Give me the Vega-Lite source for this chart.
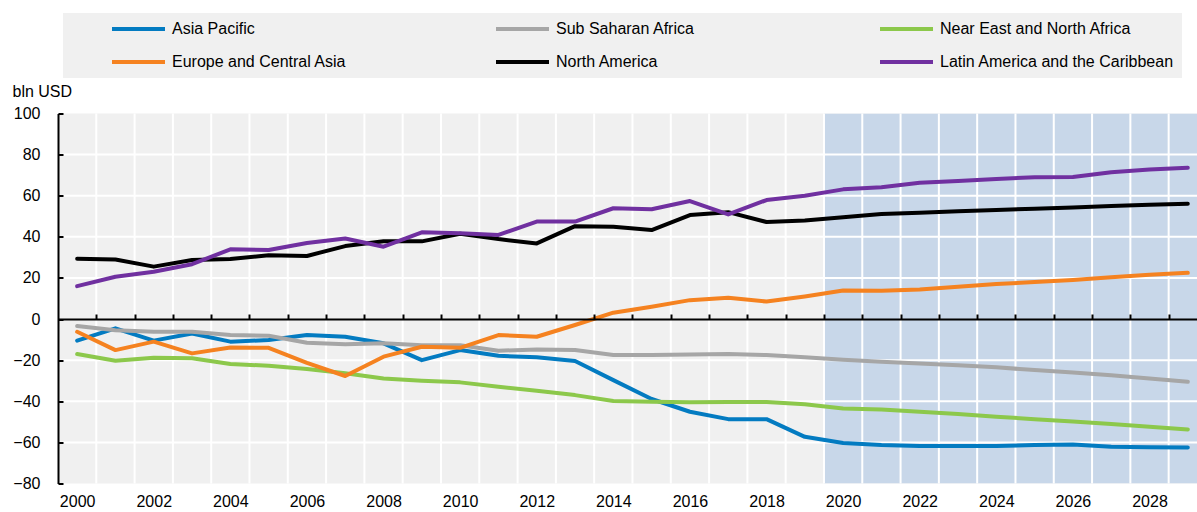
{
  "$schema": "https://vega.github.io/schema/vega-lite/v6.json",
  "width": 1139,
  "height": 370,
  "autosize": {"type": "none"},
  "padding": {"left": 58, "top": 113.5, "right": 0, "bottom": 28.5},
  "background": "white",
  "config": {
    "view": {"stroke": null, "fill": "#F0F0F0"},
    "font": "Liberation Sans"
  },
  "data": {
    "values": [
      {"year": 2000, "Asia Pacific": -10.5, "Sub Saharan Africa": -3.4, "Near East and North Africa": -17, "Europe and Central Asia": -6.2, "North America": 29.3, "Latin America and the Caribbean": 16},
      {"year": 2001, "Asia Pacific": -4.5, "Sub Saharan Africa": -5.4, "Near East and North Africa": -20.3, "Europe and Central Asia": -15.1, "North America": 29, "Latin America and the Caribbean": 20.6},
      {"year": 2002, "Asia Pacific": -10.5, "Sub Saharan Africa": -6.2, "Near East and North Africa": -18.8, "Europe and Central Asia": -11, "North America": 25.5, "Latin America and the Caribbean": 23},
      {"year": 2003, "Asia Pacific": -7, "Sub Saharan Africa": -6.2, "Near East and North Africa": -19.1, "Europe and Central Asia": -16.7, "North America": 28.7, "Latin America and the Caribbean": 26.7},
      {"year": 2004, "Asia Pacific": -11, "Sub Saharan Africa": -7.8, "Near East and North Africa": -21.9, "Europe and Central Asia": -13.8, "North America": 29.2, "Latin America and the Caribbean": 33.9},
      {"year": 2005, "Asia Pacific": -10.2, "Sub Saharan Africa": -8.1, "Near East and North Africa": -22.7, "Europe and Central Asia": -14, "North America": 31, "Latin America and the Caribbean": 33.6},
      {"year": 2006, "Asia Pacific": -7.8, "Sub Saharan Africa": -11.5, "Near East and North Africa": -24.3, "Europe and Central Asia": -21.3, "North America": 30.7, "Latin America and the Caribbean": 37},
      {"year": 2007, "Asia Pacific": -8.6, "Sub Saharan Africa": -12.2, "Near East and North Africa": -26.4, "Europe and Central Asia": -27.7, "North America": 35.5, "Latin America and the Caribbean": 39.2},
      {"year": 2008, "Asia Pacific": -11.8, "Sub Saharan Africa": -11.8, "Near East and North Africa": -28.9, "Europe and Central Asia": -18.3, "North America": 37.9, "Latin America and the Caribbean": 35.2},
      {"year": 2009, "Asia Pacific": -20, "Sub Saharan Africa": -12.7, "Near East and North Africa": -30, "Europe and Central Asia": -13.5, "North America": 37.8, "Latin America and the Caribbean": 42.2},
      {"year": 2010, "Asia Pacific": -15.1, "Sub Saharan Africa": -12.7, "Near East and North Africa": -30.8, "Europe and Central Asia": -14, "North America": 41.5, "Latin America and the Caribbean": 41.7},
      {"year": 2011, "Asia Pacific": -17.9, "Sub Saharan Africa": -15.4, "Near East and North Africa": -32.9, "Europe and Central Asia": -7.8, "North America": 38.9, "Latin America and the Caribbean": 40.9},
      {"year": 2012, "Asia Pacific": -18.6, "Sub Saharan Africa": -14.8, "Near East and North Africa": -34.9, "Europe and Central Asia": -8.6, "North America": 36.8, "Latin America and the Caribbean": 47.4},
      {"year": 2013, "Asia Pacific": -20.4, "Sub Saharan Africa": -15.1, "Near East and North Africa": -37, "Europe and Central Asia": -2.9, "North America": 45.2, "Latin America and the Caribbean": 47.4},
      {"year": 2014, "Asia Pacific": -29.7, "Sub Saharan Africa": -17.5, "Near East and North Africa": -39.9, "Europe and Central Asia": 3.1, "North America": 44.9, "Latin America and the Caribbean": 53.9},
      {"year": 2015, "Asia Pacific": -38.9, "Sub Saharan Africa": -17.5, "Near East and North Africa": -40.2, "Europe and Central Asia": 6, "North America": 43.3, "Latin America and the Caribbean": 53.4},
      {"year": 2016, "Asia Pacific": -45.1, "Sub Saharan Africa": -17.2, "Near East and North Africa": -40.5, "Europe and Central Asia": 9.2, "North America": 50.6, "Latin America and the Caribbean": 57.4},
      {"year": 2017, "Asia Pacific": -48.7, "Sub Saharan Africa": -17, "Near East and North Africa": -40.3, "Europe and Central Asia": 10.4, "North America": 52, "Latin America and the Caribbean": 50.9},
      {"year": 2018, "Asia Pacific": -48.7, "Sub Saharan Africa": -17.5, "Near East and North Africa": -40.3, "Europe and Central Asia": 8.5, "North America": 47.2, "Latin America and the Caribbean": 57.9},
      {"year": 2019, "Asia Pacific": -57.3, "Sub Saharan Africa": -18.6, "Near East and North Africa": -41.4, "Europe and Central Asia": 11, "North America": 48, "Latin America and the Caribbean": 60},
      {"year": 2020, "Asia Pacific": -60.3, "Sub Saharan Africa": -19.8, "Near East and North Africa": -43.5, "Europe and Central Asia": 13.9, "North America": 49.5, "Latin America and the Caribbean": 63.1},
      {"year": 2021, "Asia Pacific": -61.3, "Sub Saharan Africa": -20.8, "Near East and North Africa": -44, "Europe and Central Asia": 13.8, "North America": 51.1, "Latin America and the Caribbean": 64.1},
      {"year": 2022, "Asia Pacific": -61.7, "Sub Saharan Africa": -21.6, "Near East and North Africa": -45.1, "Europe and Central Asia": 14.4, "North America": 51.7, "Latin America and the Caribbean": 66.3},
      {"year": 2023, "Asia Pacific": -61.8, "Sub Saharan Africa": -22.5, "Near East and North Africa": -46.2, "Europe and Central Asia": 15.7, "North America": 52.5, "Latin America and the Caribbean": 67.2},
      {"year": 2024, "Asia Pacific": -61.7, "Sub Saharan Africa": -23.5, "Near East and North Africa": -47.5, "Europe and Central Asia": 17, "North America": 53, "Latin America and the Caribbean": 68.1},
      {"year": 2025, "Asia Pacific": -61.3, "Sub Saharan Africa": -24.8, "Near East and North Africa": -48.7, "Europe and Central Asia": 18, "North America": 53.7, "Latin America and the Caribbean": 69},
      {"year": 2026, "Asia Pacific": -61, "Sub Saharan Africa": -26, "Near East and North Africa": -49.8, "Europe and Central Asia": 19, "North America": 54.3, "Latin America and the Caribbean": 69.1},
      {"year": 2027, "Asia Pacific": -62.1, "Sub Saharan Africa": -27.3, "Near East and North Africa": -51.1, "Europe and Central Asia": 20.3, "North America": 55, "Latin America and the Caribbean": 71.4},
      {"year": 2028, "Asia Pacific": -62.4, "Sub Saharan Africa": -28.9, "Near East and North Africa": -52.4, "Europe and Central Asia": 21.6, "North America": 55.6, "Latin America and the Caribbean": 72.7},
      {"year": 2029, "Asia Pacific": -62.5, "Sub Saharan Africa": -30.5, "Near East and North Africa": -53.7, "Europe and Central Asia": 22.5, "North America": 56.1, "Latin America and the Caribbean": 73.6}
    ]
  },
  "layer": [
    {
      "data": {"values": [{}]},
      "mark": {"type": "rect", "color": "#C8D7E9", "clip": true},
      "encoding": {
        "x": {
          "datum": 2019.5, "type": "quantitative",
          "scale": {"domain": [1999.5, 2029.24], "nice": false, "zero": false},
          "axis": {
            "orient": "bottom", "title": null,
            "values": [2000, 2002, 2004, 2006, 2008, 2010, 2012, 2014, 2016, 2018, 2020, 2022, 2024, 2026, 2028],
            "format": "d", "domain": false, "ticks": false, "grid": false,
            "labelFontSize": 16, "labelColor": "#000000", "labelPadding": 10, "labelFlush": false
          }
        },
        "x2": {"datum": 2029.5}
      }
    },
    {
      "transform": [{"filter": "datum.year <= 2028"}],
      "mark": {"type": "rule", "color": "#FFFFFF", "strokeWidth": 2, "xOffset": 19.15},
      "encoding": {
        "x": {"field": "year", "type": "quantitative", "scale": {"domain": [1999.5, 2029.24], "nice": false, "zero": false}, "axis": null}
      }
    },
    {
      "data": {"values": [{}]},
      "layer": [
        {"mark": {"type": "rule", "color": "#FFFFFF", "strokeWidth": 2}, "encoding": {"y": {"datum": 80, "type": "quantitative", "axis": null}}},
        {"mark": {"type": "rule", "color": "#FFFFFF", "strokeWidth": 2}, "encoding": {"y": {"datum": 60, "type": "quantitative", "axis": null}}},
        {"mark": {"type": "rule", "color": "#FFFFFF", "strokeWidth": 2}, "encoding": {"y": {"datum": 40, "type": "quantitative", "axis": null}}},
        {"mark": {"type": "rule", "color": "#FFFFFF", "strokeWidth": 2}, "encoding": {"y": {"datum": 20, "type": "quantitative", "axis": null}}},
        {"mark": {"type": "rule", "color": "#FFFFFF", "strokeWidth": 2}, "encoding": {"y": {"datum": -20, "type": "quantitative", "axis": null}}},
        {"mark": {"type": "rule", "color": "#FFFFFF", "strokeWidth": 2}, "encoding": {"y": {"datum": -40, "type": "quantitative", "axis": null}}},
        {"mark": {"type": "rule", "color": "#FFFFFF", "strokeWidth": 2}, "encoding": {"y": {"datum": -60, "type": "quantitative", "axis": null}}}
      ]
    },
    {
      "transform": [
        {"fold": ["Asia Pacific", "Sub Saharan Africa", "Near East and North Africa", "Europe and Central Asia", "North America", "Latin America and the Caribbean"], "as": ["region", "value"]}
      ],
      "mark": {"type": "line", "strokeWidth": 4, "strokeCap": "round", "strokeJoin": "round"},
      "encoding": {
        "x": {
          "field": "year", "type": "quantitative",
          "scale": {"domain": [1999.5, 2029.24], "nice": false, "zero": false},
          "axis": {
            "orient": "top", "offset": -205.5, "title": null,
            "values": [2000.5, 2001.5, 2002.5, 2003.5, 2004.5, 2005.5, 2006.5, 2007.5, 2008.5, 2009.5, 2010.5, 2011.5, 2012.5, 2013.5, 2014.5, 2015.5, 2016.5, 2017.5, 2018.5, 2019.5, 2020.5, 2021.5, 2022.5, 2023.5, 2024.5, 2025.5, 2026.5, 2027.5, 2028.5],
            "labels": false, "grid": false,
            "domainColor": "#000000", "domainWidth": 2,
            "tickColor": "#000000", "tickWidth": 2, "tickSize": 5,
            "zindex": 1
          }
        },
        "y": {
          "field": "value", "type": "quantitative",
          "scale": {"domain": [-80, 100], "nice": false, "zero": false},
          "axis": {
            "orient": "left",
            "values": [-80, -60, -40, -20, 0, 20, 40, 60, 80, 100],
            "grid": false,
            "domainColor": "#000000", "domainWidth": 2,
            "tickColor": "#000000", "tickWidth": 2, "tickSize": -5,
            "labelFontSize": 16, "labelColor": "#000000", "labelPadding": 23,
            "title": "bln USD", "titleAngle": 0, "titleAlign": "left", "titleBaseline": "alphabetic",
            "titleX": -46, "titleY": -17.5, "titleFontSize": 16, "titleFontWeight": "normal", "titleColor": "#000000",
            "zindex": 1
          }
        },
        "color": {
          "field": "region", "type": "nominal",
          "scale": {
            "domain": ["Asia Pacific", "Sub Saharan Africa", "Near East and North Africa", "Europe and Central Asia", "North America", "Latin America and the Caribbean"],
            "range": ["#037BC1", "#A6A6A6", "#8CC84B", "#F58220", "#000000", "#7030A0"]
          },
          "legend": {
            "orient": "none", "legendX": 5, "legendY": -100.5,
            "direction": "horizontal", "columns": 3,
            "title": "\u00a0", "titleOrient": "left", "titlePadding": 39, "titleFontSize": 16,
            "symbolType": "stroke", "symbolSize": 2809, "symbolStrokeWidth": 4, "clipHeight": 16,
            "labelFontSize": 16, "labelColor": "#000000", "labelOffset": 5, "labelLimit": 400,
            "rowPadding": 17, "columnPadding": 88, "gridAlign": "all",
            "fillColor": "#F0F0F0", "padding": 8
          }
        }
      }
    }
  ],
  "resolve": {"axis": {"x": "independent", "y": "independent"}}
}
